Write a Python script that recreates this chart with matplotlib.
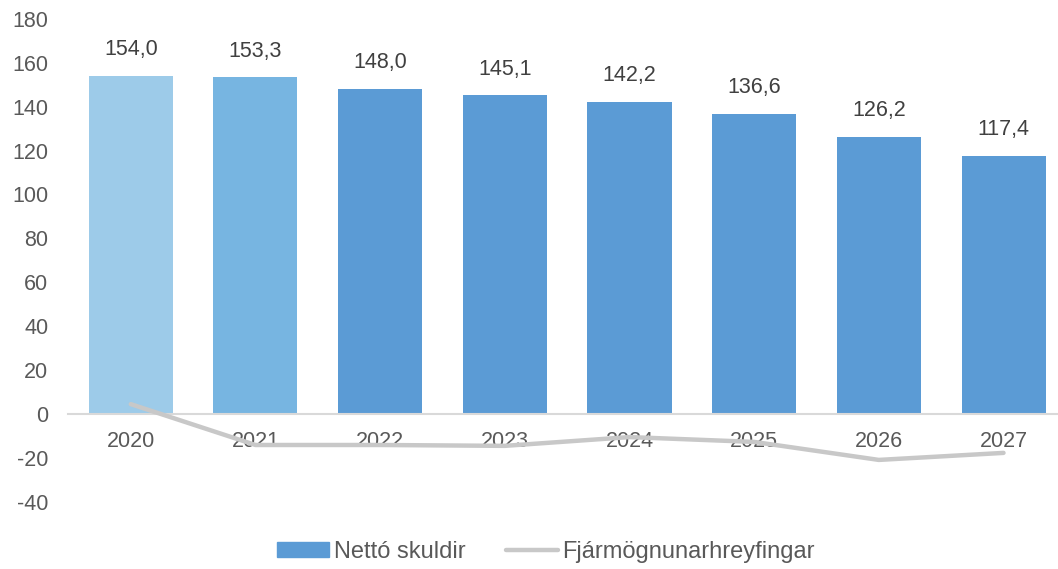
import matplotlib.pyplot as plt
from matplotlib.patches import Patch
from matplotlib.lines import Line2D
import numpy as np

plt.rcParams['font.family'] = ['Liberation Sans', 'DejaVu Sans']
plt.rcParams['axes.unicode_minus'] = False

years = ["2020", "2021", "2022", "2023", "2024", "2025", "2026", "2027"]
skuldir = [154.0, 153.3, 148.0, 145.1, 142.2, 136.6, 126.2, 117.4]
hreyfingar = [4.5, -14.1, -14.1, -14.5, -10.5, -12.7, -20.9, -17.7]
bar_colors = ["#9DCBE9", "#77B5E1"] + ["#5B9BD5"] * 6

fig = plt.figure(figsize=(10.58, 5.69), dpi=100)
ax = fig.add_axes([0.064, 0.118, 0.936, 0.849])

x = np.arange(len(years))
ax.bar(x, skuldir, width=0.674, color=bar_colors, zorder=2)
ax.plot(x, hreyfingar, color="#C8C8C8", lw=3.2, solid_capstyle="round", zorder=3)

for xi, v in zip(x, skuldir):
    ax.annotate(f"{v:.1f}".replace(".", ","), (xi, v), xytext=(0, 19),
                textcoords="offset points", ha="center", va="center",
                fontsize=15.5, color="#404040")

ax.set_xlim(-0.506, 7.437)
ax.set_ylim(-40, 180)
ax.set_yticks(range(-40, 181, 20))
ax.tick_params(axis="y", length=0, labelsize=15.5, labelcolor="#595959", pad=14)

ax.set_xticks(x)
ax.set_xticklabels(years)
ax.spines["bottom"].set_position(("data", 0))
ax.spines["bottom"].set_color("#D9D9D9")
ax.spines["bottom"].set_linewidth(1.5)
ax.tick_params(axis="x", length=0, labelsize=15.5, labelcolor="#595959", pad=12)
for s in ["left", "right", "top"]:
    ax.spines[s].set_visible(False)

handles = [Patch(color="#5B9BD5", label="Nettó skuldir"),
           Line2D([], [], color="#C8C8C8", lw=3.2, solid_capstyle="round",
                  label="Fjármögnunarhreyfingar")]
fig.legend(handles=handles, loc="center", bbox_to_anchor=(0.516, 0.03),
           ncol=2, frameon=False, fontsize=17, labelcolor="#595959",
           handlelength=2.2, handleheight=0.6, columnspacing=1.7,
           handletextpad=0.2)

fig.savefig("out.png", dpi=100)
